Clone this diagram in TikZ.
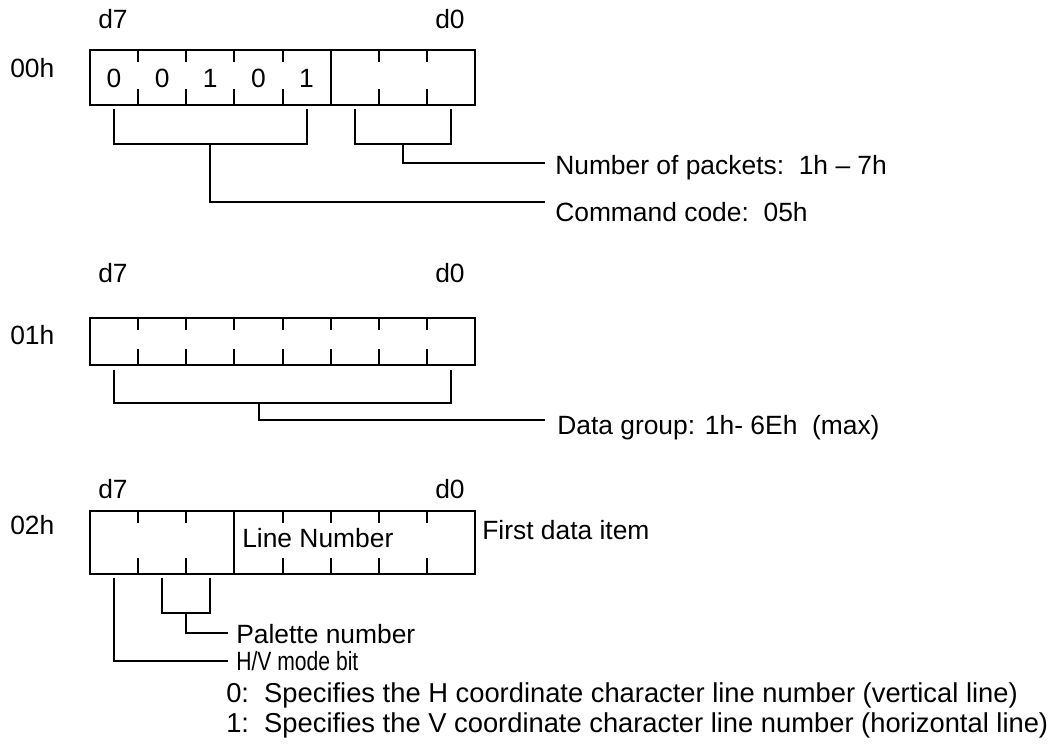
\documentclass[tikz,border=0pt]{standalone}
\usepackage{fontspec}
\setmainfont{Liberation Sans}
\usepackage{graphicx}
\newcommand{\fsz}{\fontsize{19.8pt}{24pt}\selectfont}
\newcommand{\fsze}{\fontsize{20.5pt}{24pt}\selectfont}
\tikzset{
  txt/.style={font=\fsz, inner sep=0pt, text height=14.2pt, text depth=0pt, anchor=west},
  ctxt/.style={font=\fsz, inner sep=0pt, text height=14.2pt, text depth=0pt},
  etxt/.style={font=\fsze, inner sep=0pt, text height=14.7pt, text depth=0pt, anchor=west},
  regbox/.style={draw, line width=1.5pt, minimum width=288.75pt, inner sep=0pt, outer sep=0pt},
  ln/.style={line width=1.5pt},
}
\begin{document}
\begin{tikzpicture}[x=0.75pt,y=-0.75pt]
\useasboundingbox (0,0) rectangle (1058,749);

% ---------- register 00h ----------
\node[ctxt] (d7a) at (113,19) {d7};
\node[ctxt] (d0a) at (450,19) {d0};
\node[txt] (a00) at (10,68) {00h};
\node[regbox, minimum height=41.25pt] (r0) at (282.5,77.5) {};
\foreach \i in {1,2,3,4,6,7} {
  \draw[ln] (90+\i*48.125,50) -- ++(0,12);
  \draw[ln] (90+\i*48.125,105) -- ++(0,-16);
}
\draw[ln] (90+5*48.125,50) -- (90+5*48.125,105);
\foreach \v [count=\i from 0] in {0,0,1,0,1}
  \node[ctxt] (r0b\i) at (90+48.125*\i+24.06,78) {\v};
% command code bracket
\coordinate (cL) at (114.06,109);
\coordinate (cR) at (306.56,109);
\coordinate (cM) at (210.31,144);
\coordinate (cE) at (545,202);
\draw[ln] (cL) |- (cM) -| (cR);
\draw[ln] (cM) |- (cE);
\node[txt] (cmd) at (555,212) {Command code:\ \ 05h};
% packets bracket
\coordinate (pL) at (354.69,109);
\coordinate (pR) at (450.94,109);
\coordinate (pM) at (402.81,144);
\coordinate (pE) at (545,163);
\draw[ln] (pL) |- (pM) -| (pR);
\draw[ln] (pM) |- (pE);
\node[txt] (npk) at (555,165) {Number of packets:\ \ 1h – 7h};

% ---------- register 01h ----------
\node[ctxt] (d7b) at (113,273) {d7};
\node[ctxt] (d0b) at (450,273) {d0};
\node[txt] (a01) at (10,335) {01h};
\node[regbox, minimum height=35.25pt] (r1) at (282.5,341.5) {};
\foreach \i in {1,...,7} {
  \draw[ln] (90+\i*48.125,318) -- ++(0,12);
  \draw[ln] (90+\i*48.125,365) -- ++(0,-16);
}
\coordinate (gL) at (114.06,370);
\coordinate (gR) at (450.94,370);
\coordinate (gM) at (259,403);
\coordinate (gE) at (545,420);
\draw[ln] (gL) |- (gM) -| (gR);
\draw[ln] (gM) |- (gE);
\node[txt] (dg) at (557,425) {Data group: 1h- 6Eh\ \ (max)};

% ---------- register 02h ----------
\node[ctxt] (d7c) at (113,489) {d7};
\node[ctxt] (d0c) at (450,489) {d0};
\node[txt] (a02) at (10,525) {02h};
\node[regbox, minimum height=47.25pt] (r2) at (282.5,542.5) {};
\foreach \i in {1,2,4,5,6,7} {
  \draw[ln] (90+\i*48.125,511) -- ++(0,12);
  \draw[ln] (90+\i*48.125,574) -- ++(0,-16);
}
\draw[ln] (90+3*48.125,511) -- (90+3*48.125,574);
\node[txt] (lnum) at (242,538) {Line Number};
\node[txt] (fdi) at (482,530) {First data item};
% palette bracket
\coordinate (qL) at (162.19,578);
\coordinate (qR) at (210.31,578);
\coordinate (qM) at (186.25,613);
\coordinate (qE) at (228,633);
\draw[ln] (qL) |- (qM) -| (qR);
\draw[ln] (qM) |- (qE);
\node[txt] (pal) at (236,634) {Palette number};
% H/V bit
\coordinate (hT) at (114.06,578);
\coordinate (hE) at (228,661);
\draw[ln] (hT) |- (hE);
\node[txt] (hv) at (236,661) {\scalebox{0.8}[1]{H/V mode bit}};
\node[etxt] (e0) at (226,693) {0:\ \ Specifies the H coordinate character line number (vertical line)};
\node[etxt] (e1) at (226,723) {1:\ \ Specifies the V coordinate character line number (horizontal line)};
\end{tikzpicture}
\end{document}
